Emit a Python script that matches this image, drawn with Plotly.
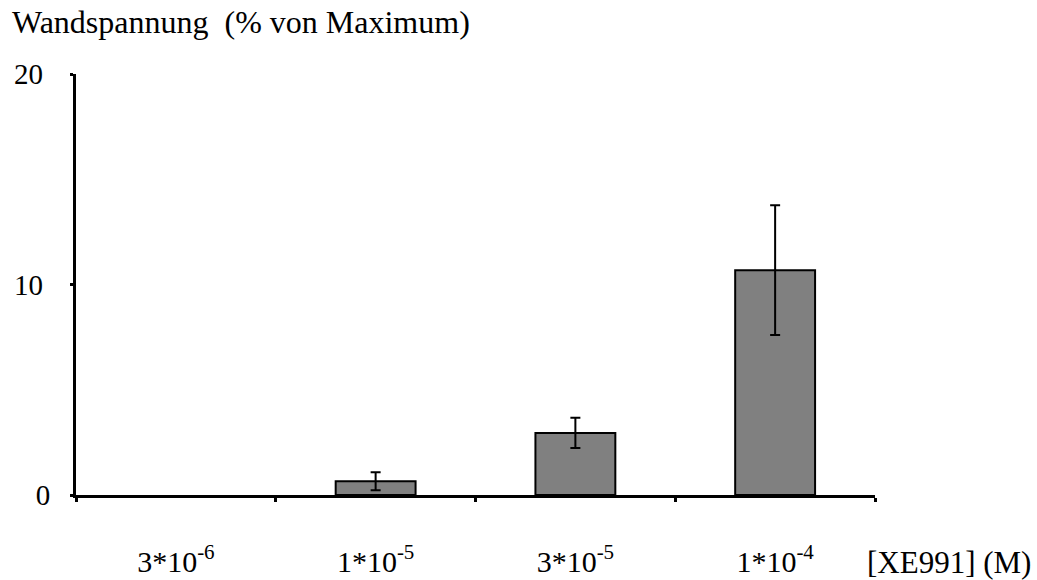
import plotly.graph_objects as go

# XE991 concentrations and wall tension (% of maximum), mean ± error
concentrations = ["3*10<sup>-6</sup>", "1*10<sup>-5</sup>", "3*10<sup>-5</sup>", "1*10<sup>-4</sup>"]
tension = [0.0, 0.65, 2.95, 10.68]
tension_err = [0.0, 0.43, 0.72, 3.08]

y_ticks = [0, 10, 20]
y_tick_labels = ["0", "10\u00a0", "20\u00a0"]

FONT = "Liberation Serif, Times New Roman, serif"

# an empty (zero) bar gets neither fill, outline nor error bar
fill_colors = ["rgba(0,0,0,0)" if v == 0 else "#808080" for v in tension]
outline_widths = [0 if v == 0 else 2 for v in tension]
with_err = [i for i, e in enumerate(tension_err) if e > 0]

fig = go.Figure()
fig.add_trace(go.Bar(
    x=concentrations,
    y=tension,
    width=0.4,
    marker=dict(color=fill_colors, line=dict(color="black", width=outline_widths)),
    showlegend=False,
))
fig.add_trace(go.Scatter(
    x=[concentrations[i] for i in with_err],
    y=[tension[i] for i in with_err],
    mode="markers",
    marker=dict(size=0.1, opacity=0),
    error_y=dict(type="data", array=[tension_err[i] for i in with_err], visible=True,
                 color="black", thickness=2, width=5),
    showlegend=False, hoverinfo="skip",
))

fig.update_layout(
    width=1037, height=580,
    margin=dict(l=76, r=162, t=74, b=85),
    plot_bgcolor="white", paper_bgcolor="white",
    font=dict(family=FONT, size=29, color="black"),
    bargap=0.6,
)

fig.update_xaxes(
    type="category", automargin=False,
    showline=True, linecolor="black", linewidth=3,
    ticks="outside", tickson="boundaries", ticklen=4, tickwidth=3, tickcolor="black",
    ticklabelstandoff=38,
    tickfont=dict(family=FONT, size=30, color="black"),
    showgrid=False, zeroline=False,
)
fig.update_yaxes(
    range=[0, 20], automargin=False,
    tickvals=y_ticks, ticktext=y_tick_labels,
    showline=True, linecolor="black", linewidth=3,
    ticks="outside", ticklen=3, tickwidth=3, tickcolor="black",
    ticklabelstandoff=14,
    tickfont=dict(family=FONT, size=29, color="black"),
    showgrid=False, zeroline=False,
)

fig.add_annotation(
    text="Wandspannung\u00a0 (% von Maximum)",
    xref="paper", yref="paper", x=-66 / 799, y=1 + 52 / 421,
    xanchor="left", yanchor="middle", showarrow=False,
    font=dict(family=FONT, size=32, color="black"),
)
fig.add_annotation(
    text="[XE991] (M)",
    xref="paper", yref="paper", x=1 + 158 / 799, y=-67 / 421,
    xanchor="right", yanchor="middle", showarrow=False,
    font=dict(family=FONT, size=31, color="black"),
)

fig.write_html("out.html")
